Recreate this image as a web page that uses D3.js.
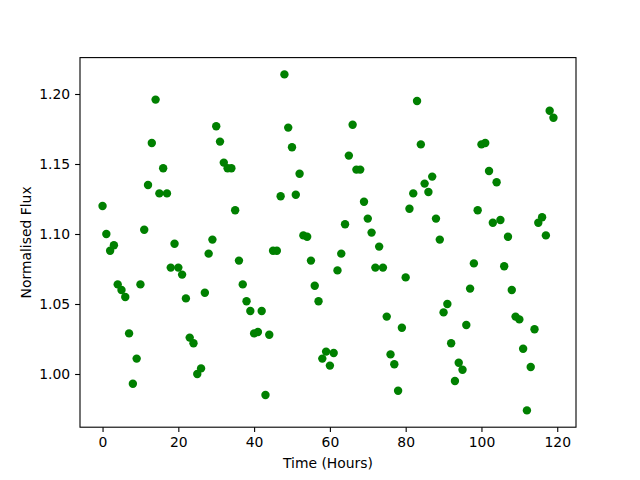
<!DOCTYPE html>
<html>
<head>
<meta charset="utf-8">
<script src="https://cdn.jsdelivr.net/npm/d3@7"></script>
<style>
  body { margin: 0; background: #fff; }
  text { font-family: "DejaVu Sans", sans-serif; }
</style>
</head>
<body>
<div id="vis"></div>
<script>
const FRAME_WIDTH = 640;
const FRAME_HEIGHT = 480;
const MARGINS = {left: 80, right: 64, top: 57.6, bottom: 52.8};

const VIS_WIDTH = FRAME_WIDTH - MARGINS.left - MARGINS.right;
const VIS_HEIGHT = FRAME_HEIGHT - MARGINS.top - MARGINS.bottom;

// time in hours
const TIME = [
  0, 1, 2, 3, 4, 5, 6, 7, 8, 9, 10, 11, 12, 13, 14, 15, 16, 17, 18, 19,
  20, 21, 22, 23, 24, 25, 26, 27, 28, 29, 30, 31, 32, 33, 34, 35, 36, 37, 38, 39,
  40, 41, 42, 43, 44, 45, 46, 47, 48, 49, 50, 51, 52, 53, 54, 55, 56, 57, 58, 59,
  60, 61, 62, 63, 64, 65, 66, 67, 68, 69, 70, 71, 72, 73, 74, 75, 76, 77, 78, 79,
  80, 81, 82, 83, 84, 85, 86, 87, 88, 89, 90, 91, 92, 93, 94, 95, 96, 97, 98, 99,
  100, 101, 102, 103, 104, 105, 106, 107, 108, 109, 110, 111, 112, 113, 114, 115, 116, 117, 118, 119
];

// normalised flux
const FLUX = [
  1.120, 1.100, 1.088, 1.092, 1.064, 1.060, 1.055, 1.029, 0.993, 1.011,
  1.064, 1.103, 1.135, 1.165, 1.196, 1.129, 1.147, 1.129, 1.076, 1.093,
  1.076, 1.071, 1.054, 1.026, 1.022, 1.000, 1.004, 1.058, 1.086, 1.096,
  1.177, 1.166, 1.151, 1.147, 1.147, 1.117, 1.081, 1.064, 1.052, 1.045,
  1.029, 1.030, 1.045, 0.985, 1.028, 1.088, 1.088, 1.127, 1.214, 1.176,
  1.162, 1.128, 1.143, 1.099, 1.098, 1.081, 1.063, 1.052, 1.011, 1.016,
  1.006, 1.015, 1.074, 1.086, 1.107, 1.156, 1.178, 1.146, 1.146, 1.123,
  1.111, 1.101, 1.076, 1.091, 1.076, 1.041, 1.014, 1.007, 0.988, 1.033,
  1.069, 1.118, 1.129, 1.195, 1.164, 1.136, 1.130, 1.141, 1.111, 1.096,
  1.044, 1.050, 1.022, 0.995, 1.008, 1.003, 1.035, 1.061, 1.079, 1.117,
  1.164, 1.165, 1.145, 1.108, 1.137, 1.110, 1.077, 1.098, 1.060, 1.041,
  1.039, 1.018, 0.974, 1.005, 1.032, 1.108, 1.112, 1.099, 1.188, 1.183
];

const X_TICKS = [0, 20, 40, 60, 80, 100, 120];
const Y_TICKS = [1.00, 1.05, 1.10, 1.15, 1.20];

const data = TIME.map((t, i) => ({t: t, flux: FLUX[i]}));

// 5% padding like matplotlib
function padded(ext) {
  const pad = (ext[1] - ext[0]) * 0.05;
  return [ext[0] - pad, ext[1] + pad];
}

const X_SCALE = d3.scaleLinear()
                  .domain(padded(d3.extent(TIME)))
                  .range([0, VIS_WIDTH]);

const Y_SCALE = d3.scaleLinear()
                  .domain(padded(d3.extent(FLUX)))
                  .range([VIS_HEIGHT, 0]);

const SVG = d3.select("#vis")
              .append("svg")
                .attr("width", FRAME_WIDTH)
                .attr("height", FRAME_HEIGHT);

const G = SVG.append("g")
             .attr("transform", "translate(" + MARGINS.left + "," + MARGINS.top + ")");

// points
G.selectAll("circle")
  .data(data)
  .enter()
  .append("circle")
    .attr("cx", (d) => X_SCALE(d.t))
    .attr("cy", (d) => Y_SCALE(d.flux))
    .attr("r", 4.2)
    .attr("fill", "#008000");

// x axis
const xAxis = G.append("g")
  .attr("transform", "translate(0," + VIS_HEIGHT + ")")
  .call(d3.axisBottom(X_SCALE).tickValues(X_TICKS).tickFormat(d3.format("d"))
          .tickSize(4.9).tickPadding(4.9));

// y axis
const yAxis = G.append("g")
  .call(d3.axisLeft(Y_SCALE).tickValues(Y_TICKS).tickFormat(d3.format(".2f"))
          .tickSize(4.9).tickPadding(4.9));

[xAxis, yAxis].forEach((ax) => {
  ax.select(".domain").remove();
  ax.selectAll("line").attr("stroke", "#000").attr("stroke-width", 1.1);
  ax.selectAll("text").attr("font-size", "13.9px").attr("fill", "#000")
    .attr("font-family", "DejaVu Sans");
});

// frame around plot
G.append("rect")
  .attr("x", 0)
  .attr("y", 0)
  .attr("width", VIS_WIDTH)
  .attr("height", VIS_HEIGHT)
  .attr("fill", "none")
  .attr("stroke", "#000")
  .attr("stroke-width", 1.1);

// axis labels
SVG.append("text")
  .attr("x", MARGINS.left + VIS_WIDTH / 2)
  .attr("y", 468)
  .attr("text-anchor", "middle")
  .attr("font-size", "13.9px")
  .text("Time (Hours)");

SVG.append("text")
  .attr("transform", "translate(31," + (MARGINS.top + VIS_HEIGHT / 2) + ") rotate(-90)")
  .attr("text-anchor", "middle")
  .attr("font-size", "13.9px")
  .text("Normalised Flux");
</script>
</body>
</html>
